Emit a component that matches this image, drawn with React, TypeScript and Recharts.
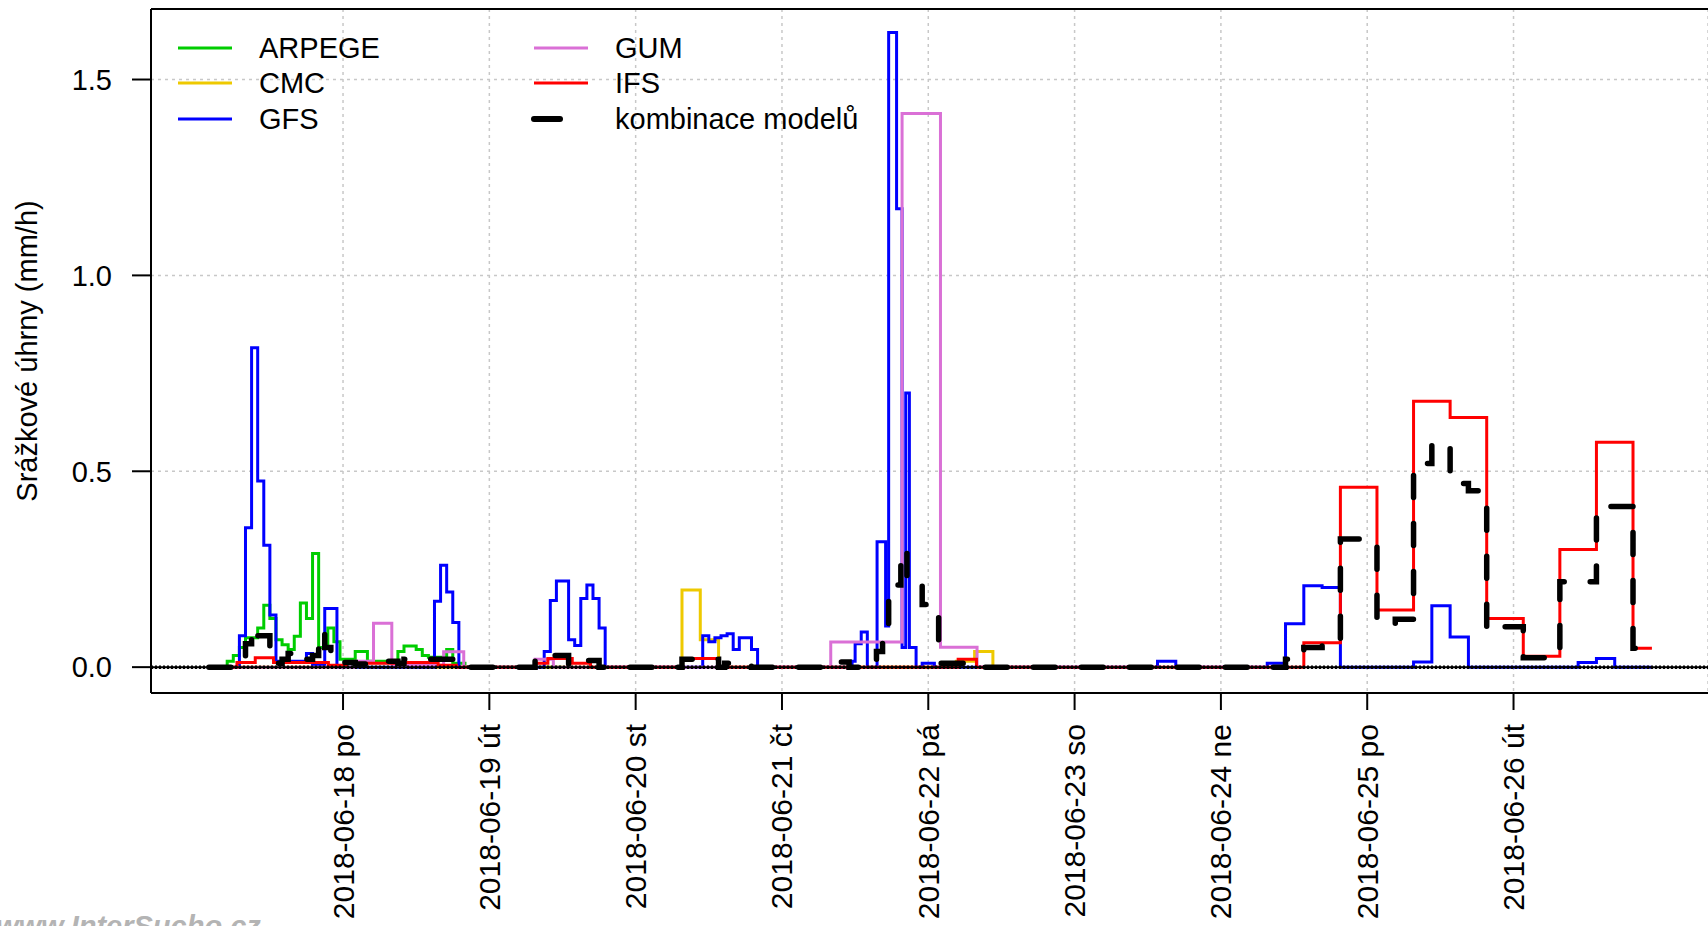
import React from "react";
import {
  LineChart,
  Line,
  XAxis,
  YAxis,
  CartesianGrid,
  ReferenceLine,
} from "recharts";

// hours counted from 2018-06-17 00:00
const dayTicks = [24, 48, 72, 96, 120, 144, 168, 192, 216];
const dayLabels = [
  "2018-06-18 po",
  "2018-06-19 út",
  "2018-06-20 st",
  "2018-06-21 čt",
  "2018-06-22 pá",
  "2018-06-23 so",
  "2018-06-24 ne",
  "2018-06-25 po",
  "2018-06-26 út",
];
const yTicks = [0, 0.5, 1, 1.5];

const modelNames = ["ARPEGE", "CMC", "GFS", "GUM", "IFS", "kombinace modelů"];
const modelColors = ["#00cd00", "#eec900", "#0000ff", "#da70d6", "#ff0000", "#000000"];

// each value holds from its hour until the next listed hour (step plot)
const arpegeT = [2, 5, 6, 7, 8, 10, 11, 12, 13, 14, 15, 16, 17, 18, 19, 20, 21.5, 22.5, 23.5, 26, 28, 33, 34, 36, 37, 38, 41, 42, 44, 60];
const arpegeV = [0, 0.015, 0.03, 0.05, 0.075, 0.1, 0.158, 0.124, 0.07, 0.057, 0.045, 0.079, 0.164, 0.124, 0.29, 0.05, 0.1, 0.065, 0.02, 0.04, 0.015, 0.04, 0.054, 0.045, 0.03, 0.025, 0.045, 0.01, 0, 0];

const cmcT = [2, 79.6, 82.6, 85.6, 124.6, 127.6, 130.6, 140];
const cmcV = [0, 0.197, 0.07, 0, 0.015, 0.04, 0, 0];

const gfsT = [2, 7, 8, 9, 10, 11, 12, 13, 18, 19, 21, 23, 39, 40, 41, 42, 43, 57, 58, 59, 61, 62, 63, 64, 65, 66, 67, 83, 84, 85, 86, 87, 88, 89, 91, 92, 107.5, 108, 109, 110, 111.6, 113, 113.5, 114.8, 115.7, 116.3, 116.9, 118, 119, 121, 157.6, 160.6, 175.6, 178.6, 181.6, 184.6, 187.6, 199.6, 202.6, 205.6, 208.6, 226.6, 229.6, 232.6, 238.6];
const gfsV = [0, 0.08, 0.356, 0.815, 0.475, 0.311, 0.133, 0.015, 0.035, 0.005, 0.15, 0, 0.168, 0.26, 0.192, 0.114, 0, 0.04, 0.17, 0.22, 0.07, 0.055, 0.175, 0.21, 0.175, 0.1, 0, 0.08, 0.065, 0.075, 0.08, 0.085, 0.045, 0.075, 0.045, 0, 0.015, 0.06, 0.09, 0, 0.32, 0.105, 1.62, 1.17, 0.05, 0.7, 0.05, 0, 0.01, 0, 0.015, 0, 0.01, 0.111, 0.208, 0.203, 0, 0.013, 0.157, 0.077, 0, 0.012, 0.022, 0, 0];

const gumT = [2, 26, 29, 32, 40.5, 43.8, 55.5, 58.5, 104, 115.7, 122, 128, 140];
const gumV = [0, 0.015, 0.112, 0.005, 0.039, 0, 0.02, 0, 0.064, 1.413, 0.051, 0, 0];

const ifsT = [2, 6.6, 9.6, 12.6, 21.6, 24.6, 33.6, 39.6, 42.6, 55.6, 57.6, 61.6, 64.6, 79.6, 85.6, 124.9, 127.9, 181.6, 187.6, 193.6, 199.6, 205.6, 211.6, 217.6, 223.6, 229.6, 235.6, 238.7];
const ifsV = [0, 0.012, 0.024, 0.012, 0.005, 0.01, 0.012, 0.005, 0, 0.01, 0.022, 0.01, 0, 0.022, 0, 0.02, 0, 0.062, 0.459, 0.146, 0.679, 0.637, 0.124, 0.028, 0.3, 0.574, 0.048, 0.048];

const comboT = [2, 7, 8, 9, 10, 12, 13, 14, 15, 16, 17, 19, 20, 21, 22, 24, 26, 28, 33, 34, 38, 42, 44, 55.5, 58, 61, 62.5, 66, 79.6, 85.6, 86.6, 91, 104, 107, 110, 111.5, 112.5, 113.5, 115.5, 116.5, 119, 121.7, 125, 128, 178.6, 181.6, 184.6, 187.6, 193.6, 196.6, 199.6, 202.6, 205.6, 208.6, 211.6, 214.6, 217.6, 223.6, 229.6, 235.6, 238.7];
const comboV = [0, 0.01, 0.06, 0.1, 0.08, 0.05, 0.01, 0.02, 0.035, 0.04, 0.02, 0.03, 0.09, 0.05, 0.02, 0.012, 0.008, 0.015, 0.01, 0.02, 0.02, 0.01, 0, 0.018, 0.03, 0.005, 0.017, 0, 0.02, 0, 0.01, 0, 0.013, 0, 0.01, 0.04, 0.07, 0.21, 0.3, 0.21, 0.16, 0.01, 0.01, 0, 0.02, 0.05, 0.073, 0.327, 0.11, 0.122, 0.52, 0.571, 0.469, 0.45, 0.094, 0.103, 0.024, 0.218, 0.41, 0.048, 0.048];

const toSeries = (t: number[], v: number[]) => t.map((h, i) => ({ t: h, v: v[i] }));

const series = [
  toSeries(arpegeT, arpegeV),
  toSeries(cmcT, cmcV),
  toSeries(gfsT, gfsV),
  toSeries(gumT, gumV),
  toSeries(ifsT, ifsV),
];
const combo = toSeries(comboT, comboV);

const FONT = "'Liberation Sans', Arial, sans-serif";

function DayTick(props: any) {
  const { x, y, payload } = props;
  const label = dayLabels[dayTicks.indexOf(payload.value)];
  return (
    <text
      x={x}
      y={y}
      transform={`rotate(-90, ${x}, ${y})`}
      textAnchor="end"
      dy="0.35em"
      fontSize={30}
      fill="#000"
      fontFamily={FONT}
    >
      {label}
    </text>
  );
}

function Legend() {
  const rows = [48, 83, 119];
  return (
    <g fontFamily={FONT} fontSize={29} fill="#000">
      {modelNames.map((name, i) => {
        const col = i < 3 ? 0 : 1;
        const y = rows[i % 3];
        const lx = col === 0 ? 178 : 534;
        const tx = col === 0 ? 259 : 615;
        const combined = i === 5;
        return (
          <g key={name}>
            <line
              x1={lx}
              x2={combined ? lx + 26 : lx + 54}
              y1={y}
              y2={y}
              stroke={modelColors[i]}
              strokeWidth={combined ? 6 : 3}
              strokeLinecap={combined ? "round" : "butt"}
            />
            <text x={tx} y={y} dy="0.35em">
              {name}
            </text>
          </g>
        );
      })}
    </g>
  );
}

export default function App() {
  return (
    <div
      style={{
        position: "absolute",
        left: 0,
        top: 0,
        width: 1708,
        height: 926,
        overflow: "hidden",
        background: "#fff",
        fontFamily: FONT,
      }}
    >
      <LineChart width={1708} height={926} margin={{ top: 9, right: 0, bottom: 0, left: 0 }}>
        <CartesianGrid stroke="#c8c8c8" strokeDasharray="3 4" strokeWidth={1.5} />
        <XAxis
          dataKey="t"
          type="number"
          domain={[-7.5, 247.9]}
          allowDataOverflow
          ticks={dayTicks}
          interval={0}
          height={233}
          tickSize={17}
          tickMargin={14}
          axisLine={{ stroke: "#000", strokeWidth: 2 }}
          tickLine={{ stroke: "#000", strokeWidth: 2 }}
          tick={<DayTick />}
        />
        <YAxis
          type="number"
          domain={[-0.066, 1.68]}
          allowDataOverflow
          ticks={yTicks}
          interval={0}
          width={151}
          tickSize={19}
          tickMargin={20}
          tickFormatter={(v: number) => v.toFixed(1)}
          axisLine={{ stroke: "#000", strokeWidth: 2 }}
          tickLine={{ stroke: "#000", strokeWidth: 2 }}
          tick={{ fontSize: 29, fill: "#000", fontFamily: FONT }}
        />
        <ReferenceLine y={1.68} stroke="#000" strokeWidth={2} />
        {series.map((d, i) => (
          <Line
            key={modelNames[i]}
            data={d}
            dataKey="v"
            type="stepAfter"
            stroke={modelColors[i]}
            strokeWidth={3}
            dot={false}
            activeDot={false}
            isAnimationActive={false}
          />
        ))}
        <ReferenceLine y={0} stroke="#000" strokeWidth={2} />
        <ReferenceLine y={0} stroke="#000" strokeWidth={3.5} strokeDasharray="2 2" />
        <Line
          data={combo}
          dataKey="v"
          type="stepAfter"
          stroke="#000"
          strokeWidth={5.5}
          strokeDasharray="22 26"
          strokeLinecap="round"
          dot={false}
          activeDot={false}
          isAnimationActive={false}
        />
      </LineChart>
      <svg
        width={1708}
        height={926}
        style={{ position: "absolute", left: 0, top: 0, pointerEvents: "none" }}
      >
        <Legend />
        <text
          x={27}
          y={351}
          transform="rotate(-90, 27, 351)"
          textAnchor="middle"
          dy="0.35em"
          fontSize={29}
          fontFamily={FONT}
          fill="#000"
        >
          Srážkové úhrny (mm/h)
        </text>
        <text
          x={-4}
          y={936}
          fontSize={29}
          fontStyle="italic"
          fontWeight="bold"
          fontFamily={FONT}
          fill="#b4b4b4"
        >
          www.InterSucho.cz
        </text>
      </svg>
    </div>
  );
}
